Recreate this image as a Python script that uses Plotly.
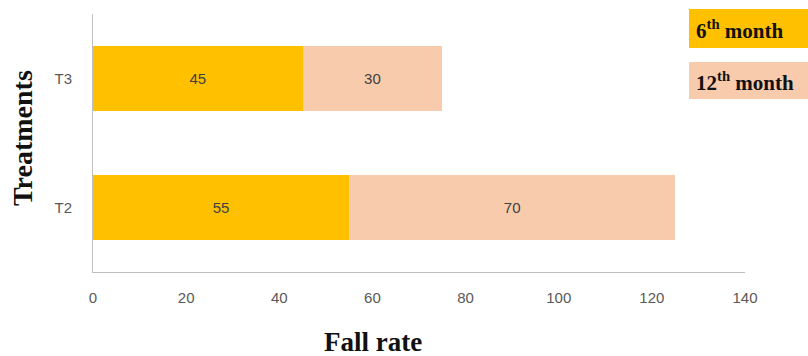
import plotly.graph_objects as go

treatments = ["T2", "T3"]
month6 = [55, 45]
month12 = [70, 30]
x_ticks = [0, 20, 40, 60, 80, 100, 120, 140]

c6 = "#FFC000"
c12 = "#F8CBAD"
W, H = 808, 356
ml, mr, mt, mb = 93, 63, 14, 84

label_font = dict(family="Liberation Sans", size=15, color="#404040")
tick_font = dict(family="Liberation Sans", size=15, color="#595959")

fig = go.Figure()
fig.add_trace(go.Bar(
    y=treatments, x=month6, orientation="h", name="6th month",
    marker=dict(color=c6, line=dict(width=0)), width=0.5,
    text=[str(v) for v in month6], textposition="inside", insidetextanchor="middle",
    textfont=label_font, textangle=0,
))
fig.add_trace(go.Bar(
    y=treatments, x=month12, orientation="h", name="12th month",
    marker=dict(color=c12, line=dict(width=0)), width=0.5,
    text=[str(v) for v in month12], textposition="inside", insidetextanchor="middle",
    textfont=label_font, textangle=0,
))

def px_x(p):
    return (p - ml) / (W - ml - mr)

def px_y(p):
    return 1 - (p - mt) / (H - mt - mb)

# legend boxes drawn as filled rectangles with bold serif labels
for (y0, y1, col, label) in [(9, 48, c6, "<b>6<sup>th</sup> month</b>"),
                              (62, 99, c12, "<b>12<sup>th</sup> month</b>")]:
    fig.add_shape(type="rect", xref="paper", yref="paper",
                  x0=px_x(689), x1=px_x(812), y0=px_y(y1), y1=px_y(y0),
                  fillcolor=col, line=dict(width=0), layer="below")
    fig.add_annotation(xref="paper", yref="paper", x=px_x(694), y=px_y((y0 + y1) / 2 + 1),
                       xanchor="left", yanchor="middle", showarrow=False, text=label,
                       font=dict(family="Liberation Serif", size=21, color="#111111"))

fig.add_annotation(xref="paper", yref="paper", x=px_x(373), y=px_y(342),
                   xanchor="center", yanchor="middle", showarrow=False,
                   text="<b>Fall rate</b>",
                   font=dict(family="Liberation Serif", size=27, color="#111111"))
fig.add_annotation(xref="paper", yref="paper", x=px_x(22), y=px_y(138),
                   xanchor="center", yanchor="middle", showarrow=False, textangle=-90,
                   text="<b>Treatments</b>",
                   font=dict(family="Liberation Serif", size=28, color="#111111"))

fig.update_layout(
    width=W, height=H, barmode="stack", showlegend=False,
    margin=dict(l=ml, r=mr, t=mt, b=mb),
    plot_bgcolor="white", paper_bgcolor="white",
    xaxis=dict(range=[0, 140], tickvals=x_ticks, showgrid=False, zeroline=False,
               showline=True, linecolor="#BFBFBF", linewidth=1, ticks="",
               tickfont=tick_font, ticklabelstandoff=12),
    yaxis=dict(range=[-0.5, 1.5], showgrid=False, zeroline=False,
               showline=True, linecolor="#BFBFBF", linewidth=1, ticks="",
               tickfont=tick_font, ticklabelstandoff=17),
)

fig.write_html("out.html")
